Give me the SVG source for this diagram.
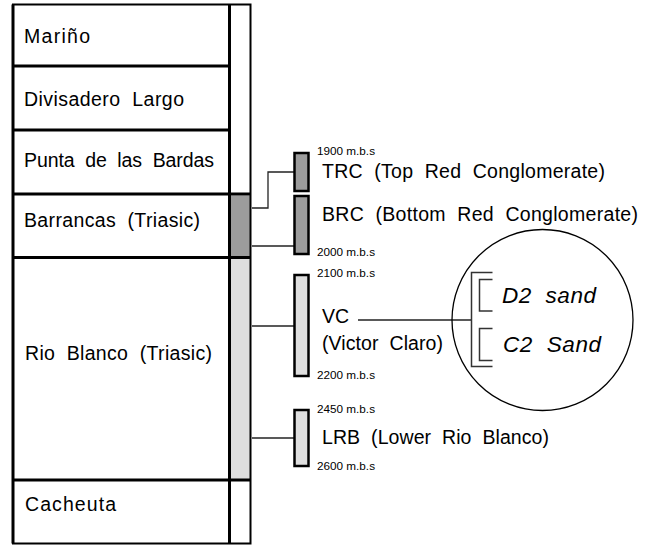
<svg xmlns="http://www.w3.org/2000/svg" width="657" height="547" viewBox="0 0 657 547">
<style>
text{white-space:pre}
.lbl{font-family:"Liberation Sans",Arial,sans-serif;font-size:19.5px;fill:#000}
.sm{font-family:"Liberation Sans",Arial,sans-serif;font-size:11.5px;fill:#000}
.it{font-family:"Liberation Sans",Arial,sans-serif;font-size:22.5px;font-style:italic;fill:#000}
.thick{stroke:#000;stroke-width:3;fill:none}
.thin{stroke:#000;stroke-width:2;fill:none}
.con{stroke:#222;stroke-width:1.3;fill:none}
.brk{stroke:#333;stroke-width:1.5;fill:none}
.dark{fill:#9c9c9c;stroke:#000;stroke-width:2.5}
.light{fill:#dedede;stroke:#000;stroke-width:2.5}
</style>
<rect width="657" height="547" fill="#fff"/>
<g id="column">
  <rect x="230" y="195.5" width="20" height="62" fill="#9c9c9c"/>
  <rect x="230" y="258" width="20" height="222" fill="#dedede"/>
  <rect x="13" y="4.5" width="237.5" height="539" class="thin"/>
  <line x1="13" y1="4.5" x2="13" y2="543.5" class="thick"/>
  <line x1="229.5" y1="4.5" x2="229.5" y2="543.5" class="thick"/>
  <line x1="13" y1="66" x2="229.5" y2="66" class="thick"/>
  <line x1="13" y1="130" x2="229.5" y2="130" class="thick"/>
  <line x1="13" y1="194" x2="250.5" y2="194" class="thick"/>
  <line x1="13" y1="257.5" x2="250.5" y2="257.5" class="thick"/>
  <line x1="13" y1="480" x2="250.5" y2="480" class="thick"/>
</g>
<g id="n-marino"><text class="lbl" x="24" y="43" textLength="66" lengthAdjust="spacing">Mariño</text></g>
<g id="n-divisadero"><text class="lbl" x="24" y="106" textLength="160" lengthAdjust="spacing">Divisadero &#160;Largo</text></g>
<g id="n-punta"><text class="lbl" x="24" y="167" textLength="190" lengthAdjust="spacing">Punta &#160;de &#160;las &#160;Bardas</text></g>
<g id="n-barrancas"><text class="lbl" x="24" y="227" textLength="176" lengthAdjust="spacing">Barrancas &#160;(Triasic)</text></g>
<g id="n-rioblanco"><text class="lbl" x="25" y="360" textLength="187" lengthAdjust="spacing">Rio &#160;Blanco &#160;(Triasic)</text></g>
<g id="n-cacheuta"><text class="lbl" x="25" y="511" textLength="91" lengthAdjust="spacing">Cacheuta</text></g>
<g id="connectors">
  <polyline points="252,208 268,208 268,172 294,172" class="con"/>
  <line x1="252" y1="246" x2="294" y2="246" class="con"/>
  <line x1="252" y1="326" x2="294" y2="326" class="con"/>
  <line x1="252" y1="438" x2="294" y2="438" class="con"/>
  <line x1="358" y1="320" x2="472" y2="320" class="con"/>
</g>
<g id="n-trc">
  <rect x="294.5" y="153" width="14" height="38" class="dark"/>
  <text class="sm" x="317" y="155" textLength="58" lengthAdjust="spacingAndGlyphs">1900 m.b.s</text>
  <text class="lbl" x="322" y="178" textLength="283" lengthAdjust="spacing">TRC &#160;(Top &#160;Red &#160;Conglomerate)</text>
</g>
<g id="n-brc">
  <rect x="294.5" y="196" width="14" height="58" class="dark"/>
  <text class="lbl" x="322" y="221" textLength="316" lengthAdjust="spacing">BRC &#160;(Bottom &#160;Red &#160;Conglomerate)</text>
  <text class="sm" x="317" y="256" textLength="58" lengthAdjust="spacingAndGlyphs">2000 m.b.s</text>
</g>
<g id="n-vc">
  <rect x="294.5" y="275" width="14" height="101" class="light"/>
  <text class="sm" x="317" y="277" textLength="58" lengthAdjust="spacingAndGlyphs">2100 m.b.s</text>
  <text class="lbl" x="322" y="323" textLength="27" lengthAdjust="spacing">VC</text>
  <text class="lbl" x="322" y="350" textLength="121" lengthAdjust="spacing">(Victor &#160;Claro)</text>
  <text class="sm" x="317" y="379" textLength="58" lengthAdjust="spacingAndGlyphs">2200 m.b.s</text>
</g>
<g id="n-lrb">
  <rect x="294.5" y="410" width="14" height="56" class="light"/>
  <text class="sm" x="317" y="413" textLength="58" lengthAdjust="spacingAndGlyphs">2450 m.b.s</text>
  <text class="lbl" x="322" y="444" textLength="227" lengthAdjust="spacing">LRB &#160;(Lower &#160;Rio &#160;Blanco)</text>
  <text class="sm" x="317" y="470" textLength="58" lengthAdjust="spacingAndGlyphs">2600 m.b.s</text>
</g>
<g id="n-circle">
  <circle cx="542.5" cy="320" r="90.5" fill="none" stroke="#000" stroke-width="1.3"/>
  <polyline points="492.5,272.5 471.5,272.5 471.5,366.5 492.5,366.5" class="brk"/>
  <polyline points="492.5,279.5 479.5,279.5 479.5,311 492.5,311" class="brk"/>
  <polyline points="492.5,328.5 479.5,328.5 479.5,360.5 492.5,360.5" class="brk"/>
  <text class="it" x="502" y="303" textLength="94" lengthAdjust="spacing">D2 &#160;sand</text>
  <text class="it" x="503" y="352" textLength="98" lengthAdjust="spacing">C2 &#160;Sand</text>
</g>
</svg>
